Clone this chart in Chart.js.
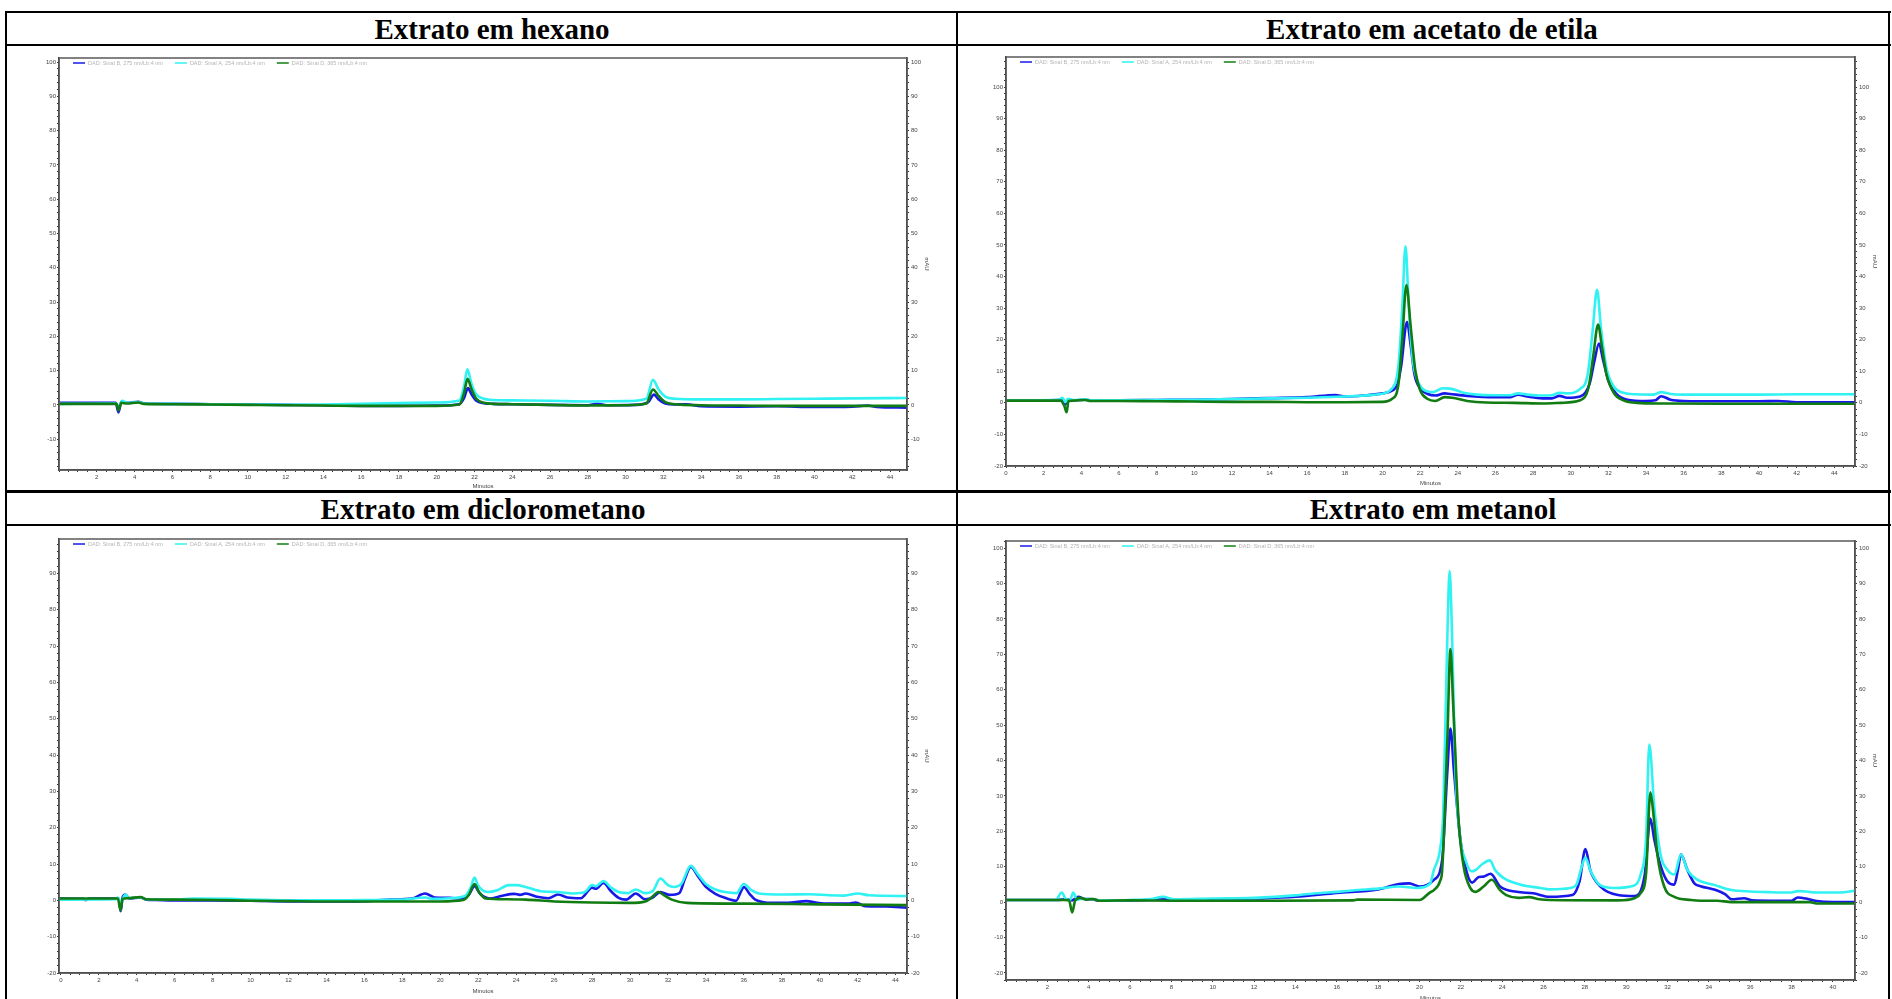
<!DOCTYPE html>
<html lang="pt">
<head>
<meta charset="utf-8">
<title>Cromatogramas dos extratos</title>
<script src="https://cdn.jsdelivr.net/npm/chart.js@4.4.1/dist/chart.umd.min.js"></script>
<style>
  body { margin: 0; width: 1892px; height: 999px; overflow: hidden; background: #fff; position: relative; }
  .rule { position: absolute; background: #000; }
  .title { position: absolute; width: 600px; height: 31px; line-height: 31px; text-align: center;
           font: bold 29px "Liberation Serif", "Times New Roman", serif; color: #000; }
  canvas { position: absolute; }
</style>
</head>
<body>

<!-- tabela -->
<div class="rule" style="left:5px;top:11px;width:1886px;height:2px"></div>
<div class="rule" style="left:5px;top:11px;width:2px;height:990px"></div>
<div class="rule" style="left:1888px;top:11px;width:2px;height:990px"></div>
<div class="rule" style="left:956px;top:11px;width:2px;height:990px"></div>
<div class="rule" style="left:5px;top:44px;width:1886px;height:2px"></div>
<div class="rule" style="left:5px;top:490px;width:1886px;height:3px"></div>
<div class="rule" style="left:5px;top:524px;width:1886px;height:2px"></div>

<div class="title" id="t1" style="left:192px;top:13px"></div>
<div class="title" id="t2" style="left:1132px;top:13px"></div>
<div class="title" id="t3" style="left:183px;top:493px"></div>
<div class="title" id="t4" style="left:1133px;top:493px"></div>

<canvas id="c1"></canvas>
<canvas id="c2"></canvas>
<canvas id="c3"></canvas>
<canvas id="c4"></canvas>

<script>
// títulos e legendas
const titles = ['Extrato em hexano', 'Extrato em acetato de etila', 'Extrato em diclorometano', 'Extrato em metanol'];
const signalLabels = ['DAD: Sinal B, 275 nm/Lb:4 nm', 'DAD: Sinal A, 254 nm/Lb:4 nm', 'DAD: Sinal D, 365 nm/Lb:4 nm'];
const signalColors = ['#1818e8', '#30f2f2', '#117c11'];

// hexano  [minutos, mAU]
const hexanoB = [[0,0.6],[3.0,0.6],[3.15,-2.2],[3.3,0.9],[3.6,0.6],[4.2,0.9],[4.5,0.4],[6,0.3],[8,0.2],[10,0.1],[12,0],[14,-0.1],[16,-0.3],[18,-0.3],[20,-0.2],[21.2,0.2],[21.45,2.0],[21.65,4.9],[21.85,3.0],[22.1,1.2],[22.5,0.5],[23,0.3],[24,0.2],[26,0],[28,-0.1],[28.5,0.3],[29,-0.1],[30.5,0],[31.2,0.8],[31.5,3.0],[31.75,1.6],[32.1,0.4],[32.6,0.1],[33.2,0.2],[34,-0.4],[36,-0.5],[38,-0.4],[40,-0.6],[42,-0.5],[42.8,-0.2],[43.3,-0.6],[44.9,-0.8]];
const hexanoA = [[0,0.3],[3.0,0.4],[3.15,-0.6],[3.35,1.2],[3.6,0.6],[4.2,0.8],[4.5,0.4],[6,0.3],[8,0.2],[10,0.1],[12,0],[14,0.1],[16,0.3],[18,0.5],[20,0.7],[21.2,1.3],[21.45,5.5],[21.62,10.4],[21.85,6],[22.1,3],[22.5,1.8],[23,1.4],[24,1.3],[26,1.2],[28,1.0],[30,1.1],[31.1,1.8],[31.45,7.3],[31.75,4.5],[32.1,2.4],[32.6,1.8],[34,1.6],[36,1.6],[38,1.7],[40,1.8],[42,1.9],[44.9,2.0]];
const hexanoD = [[0,0.3],[3.05,0.3],[3.15,-1.6],[3.3,0.6],[3.6,0.4],[4.2,0.7],[4.5,0.3],[6,0.2],[8,0.1],[10,0],[12,-0.1],[14,-0.2],[16,-0.3],[18,-0.3],[20,-0.3],[21.2,0.1],[21.45,3.5],[21.63,7.6],[21.85,4.5],[22.1,1.8],[22.5,0.6],[23,0.3],[24,0.2],[26,0],[28,-0.2],[30,-0.1],[31.1,0.4],[31.45,4.5],[31.75,2.6],[32.1,0.8],[32.6,0.2],[34,-0.1],[36,-0.2],[38,-0.3],[40,-0.3],[44.9,-0.3]];

// acetato de etila
const acetatoB = [[0,0.8],[2.8,0.9],[3.0,1.2],[3.15,-0.5],[3.3,1.0],[3.6,0.8],[4.2,1.0],[4.5,0.8],[6,0.8],[8,0.9],[10,1.0],[12,1.2],[14,1.5],[16,1.8],[17.5,2.5],[18,2.0],[19,2.3],[20,3.0],[20.5,3.8],[20.8,6],[21.0,12],[21.3,25.6],[21.5,18],[21.7,9],[22.0,4.5],[22.4,2.8],[22.8,2.3],[23.3,3.0],[23.6,2.8],[24.5,2.2],[26,1.8],[26.8,1.8],[27.2,2.6],[27.7,2.0],[28.5,1.4],[29.0,1.4],[29.4,2.2],[29.8,1.6],[30.5,2.0],[31.0,6],[31.25,13],[31.5,18.8],[31.7,14],[32.0,7],[32.4,3],[33,1.0],[34,0.6],[34.5,0.8],[34.8,2.1],[35.3,1.0],[36,0.6],[38,0.5],[40,0.5],[41,0.6],[42,0.2],[45.1,0.2]];
const acetatoA = [[0,0.8],[2.8,1.0],[3.0,1.6],[3.15,0.2],[3.3,1.3],[3.6,0.9],[4.2,1.1],[4.5,0.8],[6,0.8],[8,0.9],[10,1.0],[12,1.2],[14,1.4],[16,1.6],[18,2.0],[19.9,2.8],[20.5,4.5],[20.85,12],[21.05,30],[21.22,49.6],[21.4,30],[21.6,14],[21.9,6.5],[22.3,3.8],[22.7,3.4],[23.2,4.6],[23.6,4.5],[24.3,3.2],[25,2.6],[26,2.4],[26.8,2.4],[27.2,3.0],[27.7,2.6],[28.5,2.3],[29,2.4],[29.4,3.2],[29.8,3.0],[30.5,4.4],[30.9,9],[31.15,22],[31.4,35.8],[31.6,24],[31.9,11],[32.3,5],[32.8,3.2],[33.5,2.7],[34.4,2.6],[34.8,3.4],[35.3,2.8],[36,2.6],[38,2.6],[40,2.6],[42,2.7],[45.1,2.7]];
const acetatoD = [[0,0.7],[2.9,0.7],[3.1,-1.0],[3.22,-3.0],[3.32,0.6],[3.6,0.7],[4.2,0.9],[4.5,0.6],[6,0.6],[8,0.5],[10,0.4],[12,0.3],[14,0.3],[16,0.2],[18,0.2],[20,0.3],[20.5,1.2],[20.85,6],[21.05,20],[21.27,37.3],[21.5,24],[21.75,10],[22.0,4.0],[22.4,1.2],[22.8,0.6],[23.3,1.8],[23.7,1.6],[24.5,0.6],[25.5,0.1],[27,0],[28.5,-0.2],[29.5,0],[30.5,0.8],[30.95,5],[31.2,15],[31.45,24.8],[31.65,18],[31.9,9],[32.3,3],[32.8,0.8],[33.5,0],[35,-0.2],[38,-0.3],[41,-0.3],[45.1,-0.3]];

// diclorometano
const dicloroB = [[-0.1,0.5],[1.2,0.4],[1.3,0.1],[1.5,0.5],[3.05,0.5],[3.15,-3.0],[3.25,0.8],[3.4,1.6],[3.6,0.5],[4.2,0.8],[4.5,0.2],[5,0.1],[6,0],[8,0],[10,-0.1],[12,-0.3],[14,-0.3],[16,-0.2],[17.4,0.2],[18.5,0.5],[19.2,1.9],[19.7,0.8],[20.5,0.7],[21,0.5],[21.5,1.5],[21.8,3.9],[22.1,1.8],[22.6,0.5],[23.2,1.2],[23.9,1.8],[24.2,1.5],[24.5,1.9],[25.1,1.0],[25.7,0.6],[26.2,1.6],[26.7,0.8],[27.4,0.6],[28.0,3.5],[28.2,3.2],[28.6,4.8],[29.0,2.5],[29.4,0.7],[29.8,0.2],[30.3,1.9],[30.8,0.3],[31.2,0.8],[31.6,2.3],[32.1,1.5],[32.6,2.0],[32.9,6],[33.2,9.2],[33.6,6.5],[34.0,3.7],[34.5,1.8],[35.0,0.7],[35.6,-0.1],[35.85,2.5],[36.0,3.7],[36.3,1.8],[36.6,0.2],[37.5,-0.7],[38.5,-0.6],[39.3,-0.2],[39.8,-0.6],[40.5,-0.9],[41.5,-0.9],[41.9,-0.6],[42.4,-1.6],[43.5,-1.7],[44.6,-2.0]];
const dicloroA = [[-0.1,0.2],[2.9,0.3],[3.0,0.8],[3.15,-0.5],[3.4,1.6],[3.6,0.6],[4.2,0.8],[4.5,0.3],[6,0.2],[7,0.5],[9,0.4],[10,0.2],[12,0],[14,0],[16,0.1],[18,0.2],[19.2,0.8],[19.6,0.4],[20.5,0.6],[21.3,1.2],[21.6,3.5],[21.8,6.3],[22.0,4.0],[22.5,2.3],[23.0,2.8],[23.6,4.2],[24.0,4.2],[24.5,3.7],[25.3,2.5],[26.2,2.3],[27.0,1.9],[27.6,2.2],[28.0,4.2],[28.2,3.9],[28.6,5.3],[29.0,3.5],[29.4,2.3],[29.9,2.0],[30.3,3.0],[30.8,2.0],[31.2,2.6],[31.6,6.0],[32.0,4.2],[32.3,3.7],[32.7,4.5],[33.2,9.5],[33.6,7],[34.0,4.5],[34.5,3.0],[35.0,2.3],[35.6,2.0],[36.0,4.5],[36.4,2.8],[36.8,1.9],[38.0,1.6],[39.5,1.7],[40.5,1.4],[41.3,1.3],[42.0,1.9],[42.6,1.4],[44.6,1.2]];
const dicloroD = [[-0.1,0.5],[3.0,0.5],[3.15,-2.8],[3.25,0.4],[3.5,0.6],[4.2,0.9],[4.5,0.3],[6,0.2],[8,0.1],[10,-0.1],[12,-0.2],[14,-0.3],[16,-0.3],[18,-0.3],[20,-0.3],[21.2,0.1],[21.5,1.5],[21.8,4.5],[22.05,2.2],[22.4,0.5],[23.5,0.3],[24.5,0.2],[26,-0.3],[28,-0.6],[30,-0.7],[30.8,-0.3],[31.1,0.6],[31.5,2.3],[31.8,1.4],[32.2,0.2],[33,-0.7],[36,-0.9],[40,-1.1],[44.6,-1.3]];

// metanol
const metanolB = [[0,0.6],[2.5,0.6],[2.9,0.8],[3.2,0.5],[3.5,1.5],[3.8,0.9],[4.2,0.8],[4.4,0.5],[6,0.5],[7,0.6],[7.8,0.8],[8.2,0.5],[10,0.7],[12,1.0],[14,1.5],[16,2.6],[18,3.6],[19,5.1],[19.5,5.3],[20,4.4],[20.7,6.3],[21.1,12],[21.35,37],[21.5,49],[21.67,37],[21.98,17.7],[22.3,8.2],[22.55,5.5],[22.87,7.1],[23.1,7.2],[23.44,8],[23.9,4.4],[24.7,2.9],[25.5,2.5],[26.3,1.5],[27.4,2.0],[27.75,6],[28.03,15],[28.27,8.9],[28.76,4.4],[29.6,2.0],[30.4,1.7],[30.9,7.8],[31.17,23.6],[31.36,17.7],[31.68,10],[32.0,5.8],[32.33,4.9],[32.5,9],[32.65,13.4],[32.97,9],[33.3,5.3],[33.6,4.5],[34.3,3.5],[34.8,2.2],[35.1,0.8],[35.7,1.1],[36.1,0.5],[37,0.4],[38,0.4],[38.3,1.3],[38.7,1.0],[39.2,0.3],[40,0],[41.07,0]];
const metanolA = [[0,0.6],[2.4,0.6],[2.7,2.7],[2.9,0.8],[3.1,0.6],[3.25,2.7],[3.45,0.6],[3.6,0.9],[4.2,0.9],[4.5,0.5],[6,0.6],[7,0.9],[7.6,1.5],[8.1,0.8],[10,1.0],[12,1.2],[14,1.9],[15,2.5],[16,2.9],[17,3.4],[18,3.8],[19,4.4],[19.9,4.0],[20.5,5.1],[20.7,9.1],[21.0,15],[21.15,25],[21.35,75],[21.46,93.5],[21.58,75],[21.74,36.8],[21.98,17.7],[22.22,12],[22.5,8.7],[22.7,9.0],[23.03,10.7],[23.4,11.8],[23.68,8.9],[24.08,6.8],[24.9,4.9],[25.85,4.0],[26.3,3.6],[27.3,4.0],[27.6,5],[27.85,10],[28.03,12.6],[28.27,8.9],[28.76,4.7],[29.4,4.0],[30.4,4.7],[30.7,7.8],[30.96,17.7],[31.12,44.5],[31.36,27],[31.68,13],[32.0,9.1],[32.33,7.8],[32.65,13.4],[32.97,9],[33.4,6.5],[34.3,4.8],[35.1,3.4],[36,3.0],[37,2.8],[38,2.7],[38.3,3.1],[38.7,3.0],[39.2,2.7],[40.3,2.7],[41.07,3.2]];
const metanolD = [[0,0.6],[2.8,0.6],[3.05,0.5],[3.2,-2.9],[3.35,0.5],[3.6,1.2],[3.9,0.7],[4.2,0.9],[4.5,0.4],[6,0.5],[8,0.4],[12,0.4],[16.8,0.5],[17,0.7],[20,0.6],[20.5,2.7],[20.7,3.4],[21.0,6],[21.1,9.1],[21.35,46],[21.5,71.5],[21.63,56],[21.9,22.5],[22.14,10],[22.46,4],[22.7,2.9],[23.1,4.4],[23.5,6.3],[23.9,3.4],[24.2,2.0],[24.8,1.2],[25.3,1.4],[25.8,0.8],[26.3,0.6],[29.6,0.5],[30.4,1.1],[30.7,2.5],[30.96,7.8],[31.17,31],[31.28,27],[31.52,13],[31.84,4.4],[32.33,1.5],[33.14,0.6],[33.6,0.4],[34.4,0.4],[35.1,0],[38.9,0],[39.2,-0.4],[41.07,-0.4]];

// faixas dos eixos
const xRanges = [[0, 44.9], [0, 45.1], [-0.1, 44.6], [0, 41.07]];
const yRanges = [[-19, 101.2], [-20, 109.5], [-20, 99.5], [-22, 102]];

// posição das caixas no ecrã: [esquerda, topo, direita, baixo] + altura do eixo x
const layout = [
  { id: 'c1', box: [59, 58, 907, 470], xh: 20, zero: false, series: [hexanoB, hexanoA, hexanoD] },
  { id: 'c2', box: [1006, 57, 1855, 466], xh: 21, zero: true, series: [acetatoB, acetatoA, acetatoD] },
  { id: 'c3', box: [59, 539, 907, 973], xh: 22, zero: true, series: [dicloroB, dicloroA, dicloroD] },
  { id: 'c4', box: [1006, 541, 1855, 980], xh: 22, zero: false, series: [metanolB, metanolA, metanolD] }
];

const tickFont = { family: 'Liberation Sans', size: 6 };

// moldura completa da área do gráfico
const framePlugin = {
  id: 'frame',
  afterDatasetsDraw(chart) {
    const { ctx, chartArea: a } = chart;
    ctx.save();
    ctx.strokeStyle = '#5a5a5a';
    ctx.lineWidth = 1.5;
    ctx.strokeRect(a.left, a.top, a.right - a.left, a.bottom - a.top);
    ctx.restore();
  }
};

// legenda dentro da caixa, em cima
const innerLegend = {
  id: 'innerLegend',
  afterDraw(chart) {
    const { ctx, chartArea: a } = chart;
    let x = a.left + 14;
    const y = a.top + 5;
    ctx.save();
    ctx.font = '5.5px "Liberation Sans"';
    ctx.textBaseline = 'middle';
    chart.data.datasets.forEach(ds => {
      ctx.strokeStyle = ds.borderColor;
      ctx.lineWidth = 1.5;
      ctx.beginPath();
      ctx.moveTo(x, y);
      ctx.lineTo(x + 12, y);
      ctx.stroke();
      ctx.fillStyle = '#b4b4b4';
      ctx.fillText(ds.label, x + 15, y);
      x += 15 + ctx.measureText(ds.label).width + 12;
    });
    ctx.restore();
  }
};

function yAxis(pos, range, width) {
  return {
    type: 'linear',
    position: pos,
    min: range[0],
    max: range[1],
    afterFit: s => { s.width = width; },
    title: pos === 'right'
      ? { display: true, text: 'mAU', font: tickFont, color: '#444', padding: 0 }
      : { display: false },
    ticks: {
      stepSize: 2,
      includeBounds: false,
      autoSkip: false,
      padding: pos === 'right' ? 2 : 1,
      font: tickFont,
      color: '#444',
      callback: v => (v % 10 === 0 && v <= 100) ? v : ''
    },
    grid: { drawOnChartArea: false, tickLength: 2, color: '#333' },
    border: { color: '#333', width: 1.5 }
  };
}

function makeChart(p, i) {
  const L = 40, R = 23, T = 6;
  const [x0, y0, x1, y1] = p.box;
  const cv = document.getElementById(p.id);
  cv.width = L + (x1 - x0) + R;
  cv.height = T + (y1 - y0) + p.xh;
  cv.style.left = (x0 - L) + 'px';
  cv.style.top = (y0 - T) + 'px';

  const datasets = p.series.map((s, k) => ({
    label: signalLabels[k],
    data: s.map(pt => ({ x: pt[0], y: pt[1] })),
    borderColor: signalColors[k],
    borderWidth: 2.6,
    pointRadius: 0,
    cubicInterpolationMode: 'monotone',
    order: 2 - k
  }));

  new Chart(cv, {
    type: 'line',
    data: { datasets },
    options: {
      responsive: false,
      animation: false,
      layout: { padding: { top: T, left: 0, right: 0, bottom: 0 } },
      plugins: { legend: { display: false }, tooltip: { enabled: false } },
      scales: {
        x: {
          type: 'linear',
          min: xRanges[i][0],
          max: xRanges[i][1],
          afterFit: s => { s.height = p.xh; },
          title: { display: true, text: 'Minutos', font: tickFont, color: '#444', padding: 0 },
          ticks: {
            stepSize: 0.5,
            includeBounds: false,
            autoSkip: false,
            maxRotation: 0,
            minRotation: 0,
            padding: 2,
            font: tickFont,
            color: '#444',
            callback: v => (Number.isInteger(v) && v % 2 === 0 && (v !== 0 || p.zero)) ? v : ''
          },
          grid: { drawOnChartArea: false, tickLength: 2, color: '#333' },
          border: { color: '#333', width: 1.5 }
        },
        y: yAxis('left', yRanges[i], L),
        y2: yAxis('right', yRanges[i], R)
      }
    },
    plugins: [framePlugin, innerLegend]
  });
}

titles.forEach((t, i) => { document.getElementById('t' + (i + 1)).textContent = t; });
layout.forEach(makeChart);
</script>
</body>
</html>
